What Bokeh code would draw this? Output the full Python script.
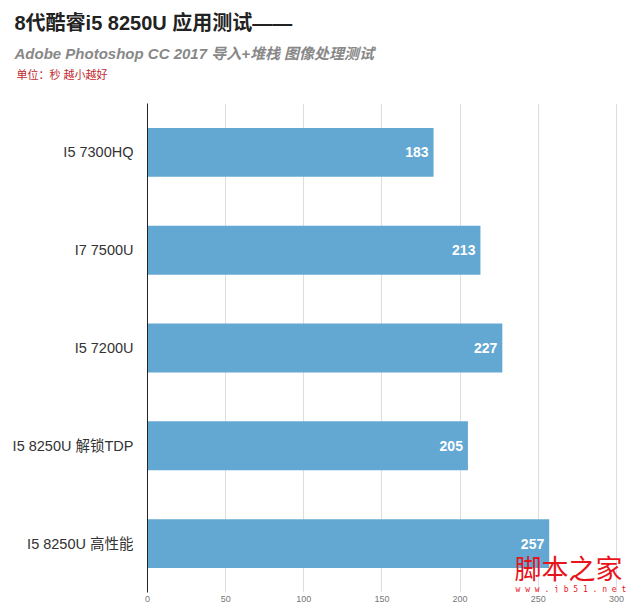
from bokeh.plotting import figure
from bokeh.models import FactorRange, Title, Label, ColumnDataSource, FixedTicker
from bokeh.core.properties import value
from bokeh.embed import file_html
from bokeh.resources import INLINE

categories = ["I5 7300HQ", "I7 7500U", "I5 7200U", "I5 8250U 解锁TDP", "I5 8250U 高性能"]
values = [183, 213, 227, 205, 257]
ticks = [0, 50, 100, 150, 200, 250, 300]

FONT = "Liberation Sans, Noto Sans CJK SC"

src = ColumnDataSource(dict(cat=categories, val=values, lab=[str(v) for v in values]))

p = figure(width=640, height=615, output_backend="svg", toolbar_location=None,
           y_range=FactorRange(*reversed(categories)), x_range=(0, 309),
           min_border_left=147, min_border_right=10, min_border_bottom=23,
           min_border_top=102)

p.hbar(y="cat", right="val", height=0.5, source=src, color="#62a8d2", line_color=None)
p.text(x="val", y="cat", text="lab", source=src, text_align="right", text_baseline="middle",
       x_offset=-5, text_color="white", text_font=value(FONT), text_font_size="14px",
       text_font_style="bold")

p.outline_line_color = None
p.ygrid.grid_line_color = None
p.xgrid.grid_line_color = "#dddddd"
p.xgrid.ticker = FixedTicker(ticks=ticks[1:])
p.xaxis.ticker = FixedTicker(ticks=ticks)
p.xaxis.axis_line_color = None
p.xaxis.major_tick_line_color = None
p.xaxis.minor_tick_line_color = None
p.xaxis.major_label_text_font_size = "9px"
p.xaxis.major_label_text_color = "#777777"
p.xaxis.major_label_text_font = FONT
p.xaxis.major_label_standoff = -3

p.yaxis.axis_line_color = "#222222"
p.yaxis.major_tick_line_color = None
p.yaxis.minor_tick_line_color = None
p.yaxis.major_label_text_font_size = "14.5px"
p.yaxis.major_label_text_color = "#333333"
p.yaxis.major_label_text_font = FONT
p.yaxis.major_label_standoff = 8

p.title = None
p.add_layout(Title(text=" ", text_font_size="1px", standoff=15), "above")
p.add_layout(Title(text="单位：秒 越小越好", text_font_size="11px", text_color="#c0282d",
                   text_font=FONT, text_font_style="normal", align="left", offset=-131,
                   standoff=10), "above")
p.add_layout(Title(text="Adobe Photoshop CC 2017 导入+堆栈 图像处理测试", text_font_size="15px",
                   text_color="#888888", text_font=FONT, text_font_style="bold italic",
                   align="left", offset=-133, standoff=0), "above")
p.add_layout(Title(text="8代酷睿i5 8250U 应用测试——", text_font_size="20px",
                   text_color="#222222", text_font=FONT, text_font_style="bold",
                   align="left", offset=-133, standoff=18), "above")

p.add_layout(Label(x=367, y=6, x_units="screen", y_units="screen", text="脚本之家",
                   text_font_size="27px", text_color="#e8141c", text_font="Noto Sans CJK SC"))
p.add_layout(Label(x=368, y=-1, x_units="screen", y_units="screen", text="w w w . j b 5 1 . n e t",
                   text_font_size="8px", text_color="#e8141c", text_font="DejaVu Sans Mono"))

open("out.html", "w").write(file_html(p, INLINE))
